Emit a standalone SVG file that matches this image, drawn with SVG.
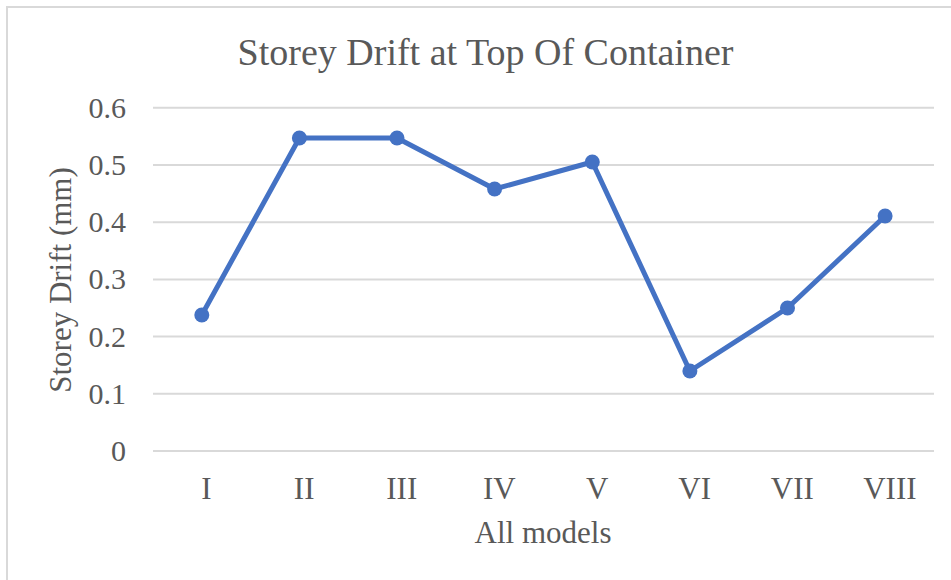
<svg xmlns="http://www.w3.org/2000/svg" width="951" height="580" viewBox="0 0 951 580">
<style>
.t{font-family:"Liberation Serif","Times New Roman",serif;fill:#595959}
.yl{font-size:30px;text-anchor:end}
.xl{font-size:31px;text-anchor:middle}
.grid line{stroke:#d9d9d9;stroke-width:2}
.pt{fill:#4472c4}
</style>
<rect x="0" y="0" width="951" height="580" fill="#ffffff"/>
<rect id="frame" x="7" y="7" width="960" height="600" fill="#ffffff" stroke="#d9d9d9" stroke-width="2"/>
<text id="title" class="t" x="485.5" y="65" font-size="38" text-anchor="middle">Storey Drift at Top Of Container</text>
<g id="gridlines" class="grid">
<line x1="153" y1="107.7" x2="934" y2="107.7"/>
<line x1="153" y1="165" x2="934" y2="165"/>
<line x1="153" y1="222.2" x2="934" y2="222.2"/>
<line x1="153" y1="279.4" x2="934" y2="279.4"/>
<line x1="153" y1="336.6" x2="934" y2="336.6"/>
<line x1="153" y1="393.8" x2="934" y2="393.8"/>
<line x1="153" y1="451" x2="934" y2="451"/>
</g>
<g id="y-axis-labels" class="t yl">
<text x="126" y="117.7">0.6</text>
<text x="126" y="175">0.5</text>
<text x="126" y="232.2">0.4</text>
<text x="126" y="289.4">0.3</text>
<text x="126" y="346.6">0.2</text>
<text x="126" y="403.8">0.1</text>
<text x="126" y="461">0</text>
</g>
<g id="x-axis-labels" class="t xl">
<text x="206.5" y="499">I</text>
<text x="304.2" y="499">II</text>
<text x="401.8" y="499">III</text>
<text x="499.4" y="499">IV</text>
<text x="597.1" y="499">V</text>
<text x="694.7" y="499">VI</text>
<text x="792.3" y="499">VII</text>
<text x="889.9" y="499">VIII</text>
</g>
<text id="x-axis-title" class="t" x="543" y="543" font-size="31" text-anchor="middle">All models</text>
<text id="y-axis-title" class="t" transform="translate(71,280) rotate(-90)" font-size="31" text-anchor="middle">Storey Drift (mm)</text>
<g id="connectors">
<polyline points="201.8,315 299.4,138 397,138 494.6,189 592.3,162 689.9,371 787.5,308 885.1,216" fill="none" stroke="#4472c4" stroke-width="5" stroke-linejoin="round" stroke-linecap="round"/>
</g>
<g id="point-I"><circle class="pt" cx="201.8" cy="315" r="7.5"/></g>
<g id="point-II"><circle class="pt" cx="299.4" cy="138" r="7.5"/></g>
<g id="point-III"><circle class="pt" cx="397" cy="138" r="7.5"/></g>
<g id="point-IV"><circle class="pt" cx="494.6" cy="189" r="7.5"/></g>
<g id="point-V"><circle class="pt" cx="592.3" cy="162" r="7.5"/></g>
<g id="point-VI"><circle class="pt" cx="689.9" cy="371" r="7.5"/></g>
<g id="point-VII"><circle class="pt" cx="787.5" cy="308" r="7.5"/></g>
<g id="point-VIII"><circle class="pt" cx="885.1" cy="216" r="7.5"/></g>
</svg>
